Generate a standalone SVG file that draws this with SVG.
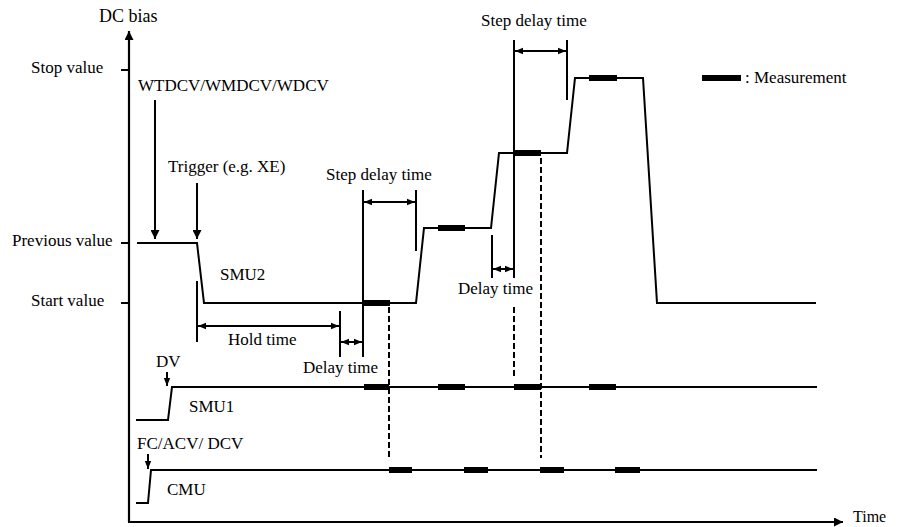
<svg xmlns="http://www.w3.org/2000/svg" width="902" height="527" viewBox="0 0 902 527">
<defs>
<style>
text{font-family:"Liberation Serif","Times New Roman",serif;font-size:17px;fill:#000}
.ln{stroke:#000;stroke-width:2;fill:none}
.ax{stroke:#000;stroke-width:2.2;fill:none}
.meas{stroke:#000;stroke-width:6;fill:none}
.dash{stroke:#000;stroke-width:2;fill:none;stroke-dasharray:6 3}
</style>
<marker id="ah" viewBox="0 0 10 10" refX="10" refY="5" markerWidth="9" markerHeight="9" markerUnits="userSpaceOnUse" orient="auto-start-reverse">
<path d="M0,0 L10,5 L0,10 Z" fill="#000"/>
</marker>
<marker id="ahs" viewBox="0 0 10 10" refX="10" refY="5" markerWidth="8" markerHeight="8" markerUnits="userSpaceOnUse" orient="auto-start-reverse">
<path d="M0,1 L10,5 L0,9 Z" fill="#000"/>
</marker>
</defs>
<rect width="902" height="527" fill="#fff"/>

<g id="axes">
<line class="ax" x1="129" y1="522" x2="129" y2="31" marker-end="url(#ah)"/>
<line class="ax" x1="128" y1="522" x2="843" y2="522" marker-end="url(#ah)"/>
<line class="ln" x1="121" y1="70" x2="129" y2="70"/>
<line class="ln" x1="121" y1="243" x2="129" y2="243"/>
<line class="ln" x1="121" y1="303" x2="129" y2="303"/>
<text x="99" y="22" style="font-size:18px">DC bias</text>
<text x="853" y="522" style="font-size:16px">Time</text>
<text x="31" y="73">Stop value</text>
<text x="12" y="246">Previous value</text>
<text x="31" y="306">Start value</text>
</g>

<g id="legend">
<line class="meas" x1="702" y1="78" x2="741" y2="78"/>
<text x="745" y="83">: Measurement</text>
</g>

<g id="smu2">
<polyline class="ln" points="137,243 197,243 204,303 416,303 424,228 491,228 499,153 567,153 575,78 643,78 657,303 816,303"/>
<line class="meas" x1="363" y1="303" x2="390" y2="303"/>
<line class="meas" x1="438" y1="228" x2="465" y2="228"/>
<line class="meas" x1="513" y1="153" x2="541" y2="153"/>
<line class="meas" x1="589" y1="78" x2="617" y2="78"/>
<text x="220" y="280">SMU2</text>
</g>

<g id="smu1">
<polyline class="ln" points="136,420 168,420 172,387 817,387"/>
<line class="meas" x1="364" y1="387" x2="389" y2="387"/>
<line class="meas" x1="438" y1="387" x2="465" y2="387"/>
<line class="meas" x1="514" y1="387" x2="541" y2="387"/>
<line class="meas" x1="589" y1="387" x2="616" y2="387"/>
<text x="156" y="367">DV</text>
<text x="189" y="412">SMU1</text>
</g>

<g id="cmu">
<polyline class="ln" points="136,503 148,503 151,470 817,470"/>
<line class="meas" x1="389" y1="470" x2="412" y2="470"/>
<line class="meas" x1="464" y1="470" x2="488" y2="470"/>
<line class="meas" x1="540" y1="470" x2="564" y2="470"/>
<line class="meas" x1="615" y1="470" x2="640" y2="470"/>
<text x="137" y="449">FC/ACV/ DCV</text>
<text x="167" y="495">CMU</text>
</g>

<g id="triggers">
<text x="138" y="91">WTDCV/WMDCV/WDCV</text>
<text x="168" y="172">Trigger (e.g. XE)</text>
</g>

<g id="timing-labels">
<text x="228" y="345">Hold time</text>
<text x="303" y="373">Delay time</text>
<text x="326" y="180">Step delay time</text>
<text x="458" y="294">Delay time</text>
<text x="481" y="26">Step delay time</text>
</g>

<g id="connectors">
<line class="ln" x1="155" y1="100" x2="155" y2="239" marker-end="url(#ah)"/>
<line class="ln" x1="197" y1="183" x2="197" y2="239" marker-end="url(#ah)"/>
<line class="ln" x1="167" y1="372" x2="167" y2="386" marker-end="url(#ahs)"/>
<line class="ln" x1="148" y1="454" x2="148" y2="469" marker-end="url(#ahs)"/>
<line class="ln" x1="197" y1="281" x2="197" y2="342"/>
<line class="ln" x1="198" y1="326" x2="339" y2="326" marker-start="url(#ahs)" marker-end="url(#ahs)"/>
<line class="ln" x1="340" y1="311" x2="340" y2="357"/>
<line class="ln" x1="363" y1="190" x2="363" y2="357"/>
<line class="ln" x1="341" y1="342" x2="362" y2="342" marker-start="url(#ahs)" marker-end="url(#ahs)"/>
<line class="ln" x1="416" y1="190" x2="416" y2="251"/>
<line class="ln" x1="364" y1="202" x2="415" y2="202" marker-start="url(#ahs)" marker-end="url(#ahs)"/>
<line class="ln" x1="492" y1="235" x2="492" y2="278"/>
<line class="ln" x1="514" y1="40" x2="514" y2="278"/>
<line class="ln" x1="493" y1="269" x2="513" y2="269" marker-start="url(#ahs)" marker-end="url(#ahs)"/>
<line class="ln" x1="567" y1="40" x2="567" y2="100"/>
<line class="ln" x1="515" y1="51" x2="566" y2="51" marker-start="url(#ahs)" marker-end="url(#ahs)"/>
<line class="dash" x1="389" y1="307" x2="389" y2="458"/>
<line class="dash" x1="514" y1="307" x2="514" y2="376"/>
<line class="dash" x1="541" y1="158" x2="541" y2="458"/>
</g>
</svg>
